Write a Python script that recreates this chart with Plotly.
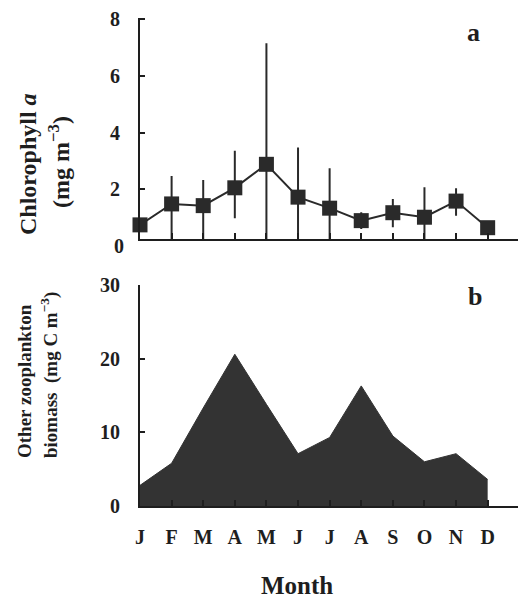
import plotly.graph_objects as go

# ---- data ----
months = ["J", "F", "M", "A", "M", "J", "J", "A", "S", "O", "N", "D"]
month_idx = list(range(12))
chl = [0.74, 1.48, 1.42, 2.05, 2.88, 1.72, 1.33, 0.89, 1.17, 1.01, 1.58, 0.64]
chl_err_plus = [0, 0.99, 0.91, 1.31, 4.28, 1.75, 1.41, 0.30, 0.48, 1.06, 0.45, 0]
chl_err_minus = [0, 1.25, 1.19, 1.08, 2.65, 1.49, 1.10, 0.30, 0.51, 0.78, 0.52, 0]
zoo_biomass = [2.8, 5.8, 13.3, 20.6, 13.8, 7.1, 9.3, 16.3, 9.5, 6.0, 7.1, 3.6]
chl_ticks = [2, 4, 6, 8]
zoo_ticks = [0, 10, 20, 30]

FONT = "Liberation Serif"
INK = "#1e1e1e"
DARK = "#333333"

fig = go.Figure()

fig.add_trace(go.Scatter(
    x=month_idx, y=chl, mode="lines+markers",
    line=dict(color="#2a2a2a", width=2),
    marker=dict(symbol="square", size=15, color="#2a2a2a"),
    error_y=dict(type="data", array=chl_err_plus, arrayminus=chl_err_minus,
                 symmetric=False, thickness=2, width=0, color="#2a2a2a"),
    cliponaxis=False, xaxis="x", yaxis="y", showlegend=False,
))

fig.add_trace(go.Scatter(
    x=month_idx, y=zoo_biomass, mode="lines", fill="tozeroy",
    fillcolor=DARK, line=dict(color=DARK, width=1),
    xaxis="x2", yaxis="y2", showlegend=False,
))

tickfont = dict(family=FONT, size=20, color=INK, weight="bold")
axis_common = dict(showline=True, linecolor=INK, linewidth=2, showgrid=False,
                   zeroline=False, ticks="inside", tickcolor=INK, tickwidth=2)

fig.update_layout(
    width=519, height=598,
    margin=dict(l=140, r=1, t=18, b=92),
    paper_bgcolor="white", plot_bgcolor="white",
    showlegend=False,
    xaxis=dict(domain=[0, 1], range=[0, 11.96], tickvals=month_idx,
               showticklabels=False, ticklen=6, anchor="y", **axis_common),
    yaxis=dict(domain=[0.5465, 1], range=[0.23, 8.05], tickvals=chl_ticks,
               ticklen=5, tickfont=tickfont, ticklabelstandoff=14,
               anchor="x", **axis_common),
    xaxis2=dict(domain=[0, 1], range=[0, 11.96], tickvals=month_idx,
                ticktext=months, ticklen=6, tickfont=tickfont,
                ticklabelstandoff=12, anchor="y2", **axis_common),
    yaxis2=dict(domain=[0, 0.4529], range=[0, 30], tickvals=zoo_ticks,
                ticklen=5, tickfont=tickfont, ticklabelstandoff=14,
                anchor="x2", **axis_common),
)

def ann(text, x, y, size, angle=0, xanchor="center", yanchor="middle", xshift=0):
    fig.add_annotation(text=text, x=x, y=y, xref="paper", yref="paper",
                       showarrow=False, textangle=angle, xanchor=xanchor,
                       yanchor=yanchor, xshift=xshift,
                       font=dict(family=FONT, size=size, color=INK, weight="bold"))

ann("0", 0, 0.5328, 20, xanchor="right", xshift=-14)
ann("a", 0.881, 0.9713, 26)
ann("b", 0.886, 0.4303, 26)
ann("Chlorophyll <i>a</i>", -0.2963, 0.7008, 24, angle=-90)
ann("(mg m<sup>−3</sup>)", -0.2143, 0.7049, 24, angle=-90)
ann("Other zooplankton", -0.3042, 0.0943, 19, angle=-90, yanchor="bottom")
ann("biomass&nbsp; (mg C m<sup>−3</sup>)", -0.2381, 0.0943, 19, angle=-90, yanchor="bottom")
ann("Month", 0.4153, -0.1639, 25)

fig.write_html("out.html", config={"displayModeBar": False},
               post_script="document.body.style.margin='0';document.body.style.overflow='hidden';")
